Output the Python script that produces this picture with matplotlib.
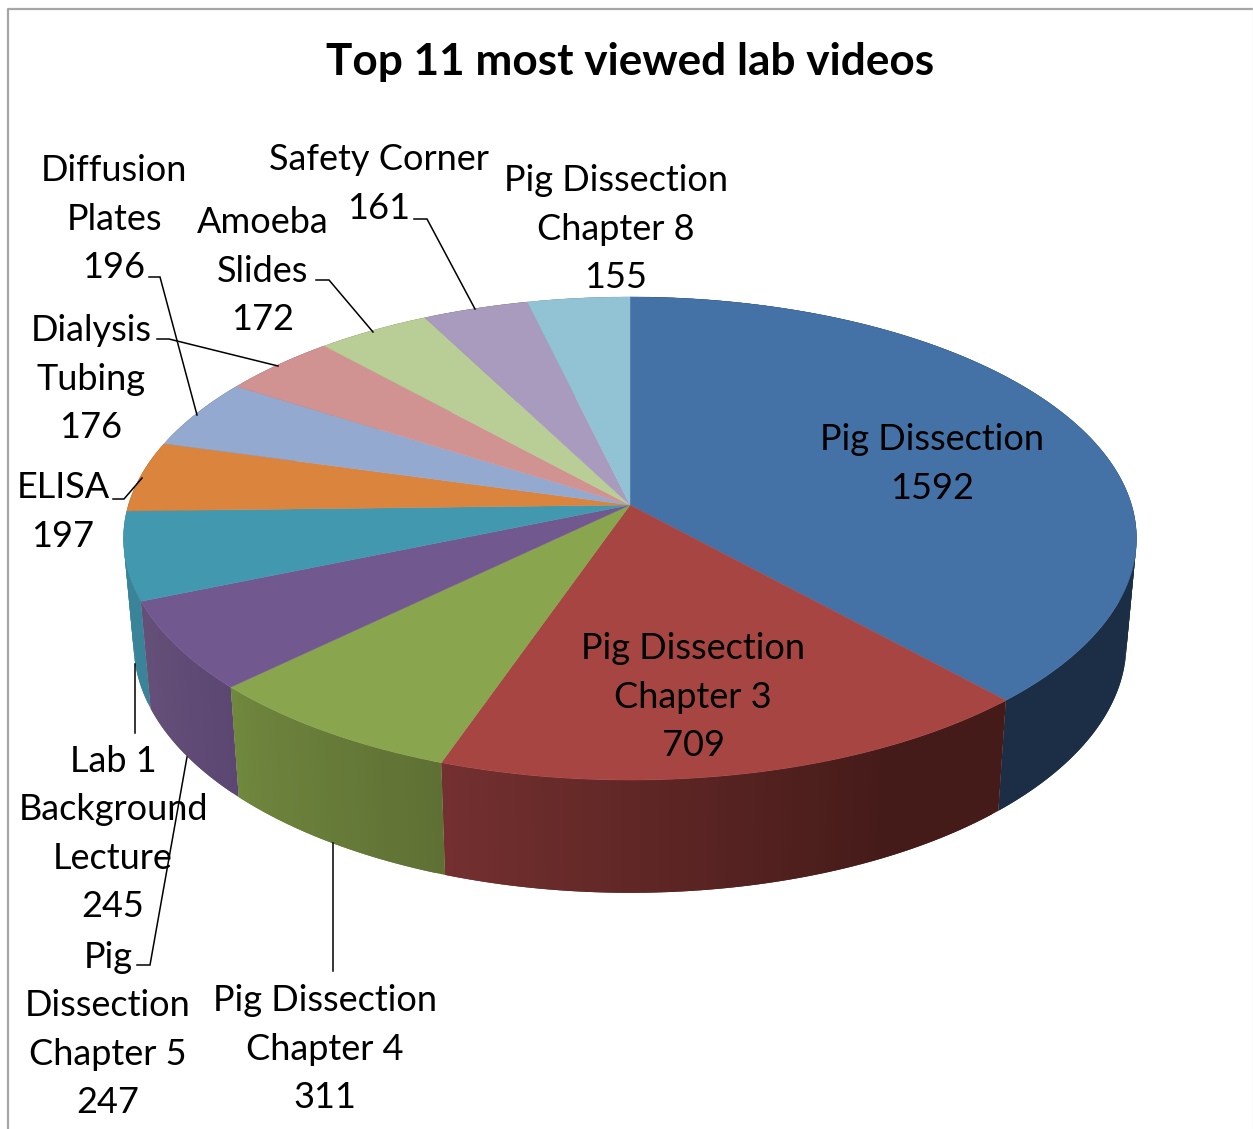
import numpy as np
import matplotlib
matplotlib.use("Agg")
import matplotlib.pyplot as plt
from matplotlib.colors import to_rgb

names = ["Pig Dissection", "Pig Dissection\nChapter 3", "Pig Dissection\nChapter 4",
         "Pig\nDissection\nChapter 5", "Lab 1\nBackground\nLecture", "ELISA",
         "Diffusion\nPlates", "Dialysis\nTubing", "Amoeba\nSlides", "Safety Corner",
         "Pig Dissection\nChapter 8"]
values = [1592, 709, 311, 247, 245, 197, 196, 176, 172, 161, 155]
top_colors = ["#4471A6", "#A74543", "#89A54E", "#71588F", "#4198AF", "#DB843D",
              "#93A9CF", "#D19392", "#B9CD96", "#A99BBD", "#92C3D4"]
side_start = ["#1B2E45", "#451B19", "#5F7034", "#5B4772", "#3A8499", "#8A5020",
              "#5C6A82", "#825C5B", "#74805E", "#6A6176", "#5B7A85"]
side_end = ["#1B2E45", "#753030", "#70873E", "#655079", "#3A8499", "#8A5020",
            "#5C6A82", "#825C5B", "#74805E", "#6A6176", "#5B7A85"]
label_xy = [(932, 464), (693, 697), (325, 1049), (108, 1030), (113, 834), (63, 512),
            (114, 219), (91, 379), (263, 271), (379, 184), (616, 229)]
leaders = [
    [(113, 499), (124, 499), (142, 478)],
    [(135, 733), (135, 664)],
    [(137, 965), (150, 965), (187, 757)],
    [(333, 971), (333, 843)],
    [(149, 277), (160, 277), (197, 415)],
    [(157, 339), (169, 339), (278, 366)],
    [(316, 280), (329, 280), (373, 332)],
    [(414, 219), (427, 219), (475, 309)],
]

plt.rcParams["font.family"] = ["Lato", "DejaVu Sans"]
fig = plt.figure(figsize=(12.53, 11.29), dpi=100, facecolor="white")
ax = fig.add_axes([0, 0, 1, 1])
ax.set_xlim(0, 1253)
ax.set_ylim(1129, 0)
ax.axis("off")

CX, CY = 630.0, 505.0
K, A, B = 0.1387, 501.6, 236.9


def top_pt(theta):
    s, c = np.sin(theta), np.cos(theta)
    d = 1 + K * c
    return CX + A * s / d, CY - B * c / d


def bottom_pt(theta):
    x, y = top_pt(theta)
    return CX + 0.98 * (x - CX), CY + 1.03 * (y - CY) + 104.5


total = sum(values)
edges = 2 * np.pi * np.concatenate([[0], np.cumsum(values)]) / total

# side walls: overlapping facets, so no seams show between them
order = [0, 5, 6, 7, 8, 9, 10, 4, 3, 1, 2]
for i in order:
    a0, a1 = edges[i], edges[i + 1]
    n = max(int((a1 - a0) * 60), 4)
    ts = np.linspace(a0, a1, n + 1)
    c0, c1 = np.array(to_rgb(side_start[i])), np.array(to_rgb(side_end[i]))
    for j in range(n):
        t0, t1 = ts[j], ts[min(j + 2, n)]
        f = 1 - (j + 0.5) / n
        if i == 1:
            f = min(1.0, f * 1.35)
        col = c0 * f + c1 * (1 - f)
        tt = np.linspace(t0, t1, 5)
        xt, yt = top_pt(tt)
        xb, yb = bottom_pt(tt[::-1])
        ax.fill(np.r_[xt, xb], np.r_[yt, yb], facecolor=col, edgecolor="none", zorder=2)

# top face
for i in range(len(values)):
    ts = np.linspace(edges[i], edges[i + 1], 200)
    xs, ys = top_pt(ts)
    ax.fill(np.r_[CX, xs], np.r_[CY, ys], facecolor=top_colors[i],
            edgecolor=top_colors[i], lw=0.3, zorder=3)

# outer border of the chart area
ax.plot([7.5, 7.5, 1253], [1129, 8.5, 8.5], color="#A6A6A6", lw=1.6, zorder=1)
ax.plot([1252.5, 1252.5], [8, 1129], color="#EAEAEA", lw=1, zorder=1)

# leader lines
for pts in leaders:
    ax.plot(*zip(*pts), color="black", lw=1.1, zorder=5, solid_joinstyle="miter")

# labels
for name, val, (lx, ly) in zip(names, values, label_xy):
    ax.text(lx, ly, f"{name}\n{val}", ha="center", va="center", fontsize=26,
            linespacing=1.575, color="black", zorder=6)

ax.text(630, 62, "Top 11 most viewed lab videos", ha="center", va="center",
        fontsize=31.8, fontweight="bold", color="black", zorder=6)

fig.savefig("out.png", dpi=100, facecolor="white")
